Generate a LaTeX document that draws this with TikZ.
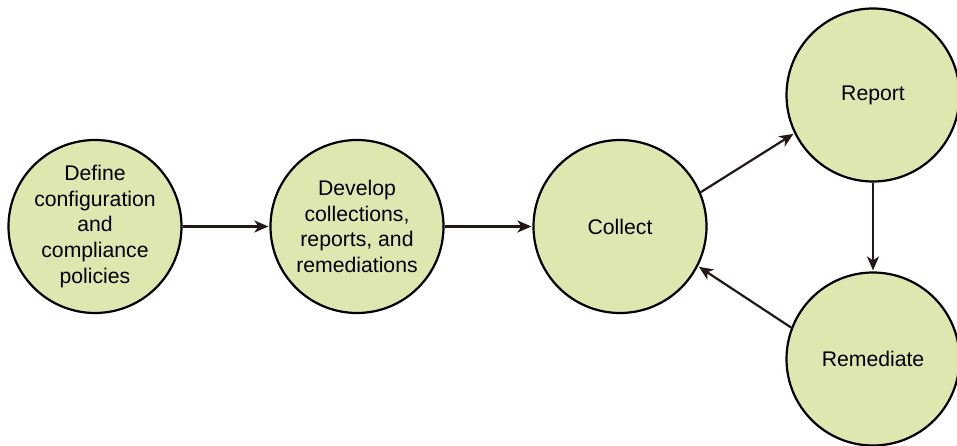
\documentclass[tikz,border=0pt]{standalone}
\usepackage{fontspec}
\setmainfont{Liberation Sans}
\usetikzlibrary{arrows.meta}
\definecolor{stagefill}{HTML}{DFE6B0}
\definecolor{flowink}{HTML}{231815}
\begin{document}
\begin{tikzpicture}[x=1pt,y=-1pt,
  stage/.style={circle, draw=black, line width=2.2pt, fill=stagefill,
    minimum size=173pt, inner sep=0pt, align=center,
    font=\fontsize{21.2}{25.8}\selectfont},
  flow/.style={draw=flowink, line width=2.2pt,
    -{Stealth[length=14pt,width=12pt,inset=4pt]}, shorten >=1pt}]
\useasboundingbox (0,0) rectangle (957,446);
\node[stage] (define) at (95,226.5) {Define\\configuration\\and\\compliance\\policies};
\node[stage] (develop) at (357,226.5) {Develop\\collections,\\reports, and\\remediations};
\node[stage] (collect) at (620,226.5) {Collect};
\node[stage] (report) at (873,95) {Report};
\node[stage] (remediate) at (873,359) {Remediate};
\draw[flow] (define) -- (develop);
\draw[flow] (develop) -- (collect);
\draw[flow] (collect.23.5) -- (report.206.6);
\draw[flow] (report) -- (remediate);
\draw[flow] (remediate.159.3) -- (collect.333.3);
\end{tikzpicture}
\end{document}
